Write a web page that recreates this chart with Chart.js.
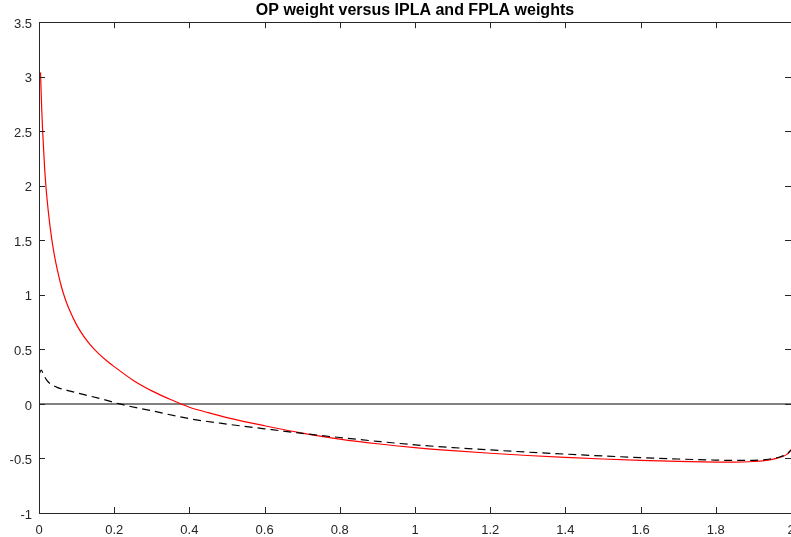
<!DOCTYPE html>
<html>
<head>
<meta charset="utf-8">
<script src="https://cdn.jsdelivr.net/npm/chart.js@4.4.1/dist/chart.umd.min.js"></script>
<style>
  html, body { margin: 0; padding: 0; background: #fff; }
  #wrap { width: 791px; height: 537px; }
</style>
</head>
<body>
<div id="wrap"><canvas id="chart" width="791" height="537"></canvas></div>
<script>
// OP weight (red)
const opX = [0.004, 0.007, 0.01, 0.015, 0.02, 0.03, 0.04, 0.05, 0.06, 0.07, 0.08, 0.1, 0.12, 0.14, 0.16, 0.18, 0.2, 0.25, 0.3, 0.35, 0.4, 0.45, 0.5, 0.6, 0.7, 0.8, 0.9, 1.0, 1.1, 1.2, 1.3, 1.4, 1.5, 1.6, 1.7, 1.8, 1.85, 1.9, 1.94, 1.97, 1.99, 2.0];
const opY = [3.04, 2.72, 2.48, 2.16, 1.93, 1.61, 1.38, 1.21, 1.07, 0.96, 0.87, 0.725, 0.615, 0.528, 0.457, 0.396, 0.342, 0.218, 0.12, 0.04, -0.03, -0.08, -0.125, -0.2, -0.268, -0.322, -0.365, -0.4, -0.428, -0.452, -0.473, -0.49, -0.505, -0.517, -0.527, -0.533, -0.534, -0.528, -0.515, -0.49, -0.46, -0.42];

// IPLA / FPLA weight (black dashed)
const plaX = [0.0, 0.006, 0.012, 0.02, 0.03, 0.05, 0.08, 0.12, 0.17, 0.214, 0.3, 0.4, 0.5, 0.6, 0.7, 0.8, 0.9, 1.0, 1.1, 1.2, 1.3, 1.4, 1.5, 1.6, 1.7, 1.8, 1.85, 1.9, 1.94, 1.97, 1.99, 2.0];
const plaY = [0.27, 0.31, 0.27, 0.22, 0.185, 0.15, 0.12, 0.085, 0.043, 0.0, -0.063, -0.135, -0.185, -0.228, -0.27, -0.308, -0.343, -0.375, -0.4, -0.422, -0.442, -0.46, -0.477, -0.492, -0.505, -0.515, -0.518, -0.517, -0.507, -0.487, -0.457, -0.425];

// zero reference line
const zeroX = [0, 2];
const zeroY = [0, 0];

const xTicks = [0, 0.2, 0.4, 0.6, 0.8, 1, 1.2, 1.4, 1.6, 1.8, 2];
const yTicks = [-1, -0.5, 0, 0.5, 1, 1.5, 2, 2.5, 3, 3.5];

const pts = (xs, ys) => xs.map((x, i) => ({ x: x, y: ys[i] }));

const AXIS_COLOR = '#262626';
const FONT = 'Liberation Sans, Arial, sans-serif';

// box + inward ticks like matlab
const boxPlugin = {
    id: 'boxTicks',
    afterDatasetsDraw(chart) {
        const { ctx, chartArea: a, scales } = chart;
        ctx.save();
        ctx.strokeStyle = AXIS_COLOR;
        ctx.lineWidth = 1;
        ctx.beginPath();
        ctx.rect(Math.round(a.left) + 0.5, Math.round(a.top) + 0.5,
                 Math.round(a.right - a.left), Math.round(a.bottom - a.top));
        const len = 6;
        xTicks.forEach(v => {
            const px = Math.round(scales.x.getPixelForValue(v)) + 0.5;
            ctx.moveTo(px, a.bottom); ctx.lineTo(px, a.bottom - len);
            ctx.moveTo(px, a.top); ctx.lineTo(px, a.top + len);
        });
        yTicks.forEach(v => {
            const py = Math.round(scales.y.getPixelForValue(v)) + 0.5;
            ctx.moveTo(a.left, py); ctx.lineTo(a.left + len, py);
            ctx.moveTo(a.right, py); ctx.lineTo(a.right - len, py);
        });
        ctx.stroke();
        ctx.restore();
    }
};

const fmt = v => String(Math.round(v * 10) / 10);

new Chart(document.getElementById('chart'), {
    type: 'line',
    data: {
        datasets: [
            {
                label: 'IPLA and FPLA',
                data: pts(plaX, plaY),
                borderColor: '#000000',
                borderWidth: 1.2,
                borderDash: [8, 5],
                pointRadius: 0,
                cubicInterpolationMode: 'monotone'
            },
            {
                label: 'OP',
                data: pts(opX, opY),
                borderColor: '#ff0000',
                borderWidth: 1.2,
                pointRadius: 0,
                cubicInterpolationMode: 'monotone'
            },
            {
                label: 'zero',
                data: pts(zeroX, zeroY),
                borderColor: '#808080',
                borderWidth: 2,
                pointRadius: 0
            }
        ]
    },
    options: {
        responsive: false,
        animation: false,
        layout: { padding: { left: 0, right: 0, top: 0, bottom: 0 } },
        plugins: {
            legend: { display: false },
            tooltip: { enabled: false },
            title: {
                display: true,
                text: 'OP weight versus IPLA and FPLA weights',
                fullSize: false,
                color: '#000000',
                font: { family: FONT, size: 16, weight: 'bold' },
                padding: { top: 1, bottom: 2 }
            }
        },
        scales: {
            x: {
                type: 'linear',
                min: 0,
                max: 2,
                grid: { display: false, drawTicks: false },
                border: { display: false },
                afterBuildTicks: s => { s.ticks = xTicks.map(v => ({ value: v })); },
                ticks: {
                    color: AXIS_COLOR,
                    padding: 10,
                    maxRotation: 0,
                    autoSkip: false,
                    font: { family: FONT, size: 13 },
                    callback: v => fmt(v)
                },
                afterFit: s => { s.height = 24; s.paddingLeft = 0; s.paddingRight = 0; }
            },
            y: {
                type: 'linear',
                min: -1,
                max: 3.5,
                grid: { display: false, drawTicks: false },
                border: { display: false },
                afterBuildTicks: s => { s.ticks = yTicks.map(v => ({ value: v })); },
                ticks: {
                    color: AXIS_COLOR,
                    padding: 7,
                    labelOffset: 2,
                    autoSkip: false,
                    font: { family: FONT, size: 13 },
                    callback: v => fmt(v)
                },
                afterFit: s => { s.width = 39; s.paddingTop = 0; s.paddingBottom = 0; }
            }
        }
    },
    plugins: [boxPlugin]
});
</script>
</body>
</html>
